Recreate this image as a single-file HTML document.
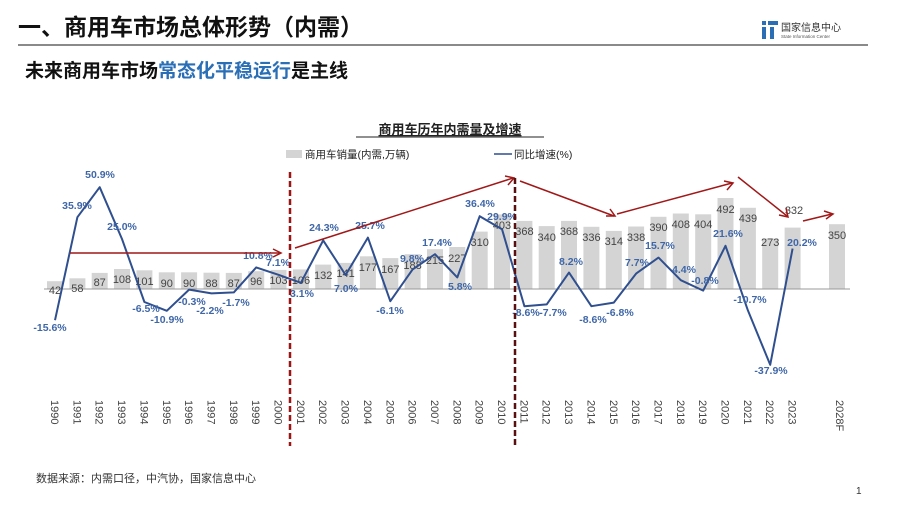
<!DOCTYPE html>
<html><head><meta charset="utf-8"><style>
body{margin:0;background:#fff;}
svg{display:block;font-family:"Liberation Sans","Noto Sans CJK SC",sans-serif;}
</style></head><body>
<svg width="900" height="507" viewBox="0 0 900 507" xmlns="http://www.w3.org/2000/svg">
<rect width="900" height="507" fill="#fff"/>
<text x="18" y="35" font-size="23" font-weight="bold" fill="#111">一、商用车市场总体形势（内需）</text>
<line x1="18" y1="45" x2="868" y2="45" stroke="#444" stroke-width="1.2"/>
<rect x="762" y="21" width="4" height="4" fill="#2a6fb6"/><rect x="762" y="27" width="4" height="12" fill="#2a6fb6"/><rect x="768" y="21" width="10" height="4" fill="#2a6fb6"/><rect x="770" y="27" width="4" height="12" fill="#2a6fb6"/>
<text x="781" y="31" font-size="10" fill="#333">国家信息中心</text>
<text x="781" y="38" font-size="4.5" fill="#555">State Information Center</text>
<text x="25" y="77" font-size="19" font-weight="bold" fill="#111">未来商用车市场<tspan fill="#2a6fb6">常态化平稳运行</tspan>是主线</text>
<text x="450" y="134" font-size="13" font-weight="bold" fill="#222" text-anchor="middle" text-decoration="underline">商用车历年内需量及增速</text>
<line x1="356" y1="137" x2="544" y2="137" stroke="#222" stroke-width="1"/>
<rect x="286" y="150" width="16" height="8" fill="#d4d4d4"/>
<text x="305" y="158" font-size="10.5" fill="#222">商用车销量(内需,万辆)</text>
<line x1="494" y1="154" x2="512" y2="154" stroke="#2f4f8f" stroke-width="1.5"/>
<text x="514" y="158" font-size="10.5" fill="#222">同比增速(%)</text>

<g fill="#d4d4d4">
<rect x="47" y="281.2" width="16" height="7.8"/><rect x="69.4" y="278.3" width="16" height="10.7"/><rect x="91.7" y="272.9" width="16" height="16.1"/><rect x="114" y="269" width="16" height="20"/><rect x="136.4" y="270.3" width="16" height="18.7"/><rect x="158.8" y="272.3" width="16" height="16.7"/><rect x="181.1" y="272.3" width="16" height="16.7"/><rect x="203.5" y="272.7" width="16" height="16.3"/><rect x="225.8" y="272.9" width="16" height="16.1"/><rect x="248.2" y="271.2" width="16" height="17.8"/><rect x="270.5" y="269.9" width="16" height="19.1"/><rect x="292.9" y="269.4" width="16" height="19.6"/><rect x="315.2" y="264.6" width="16" height="24.4"/><rect x="337.6" y="262.9" width="16" height="26.1"/><rect x="359.9" y="256.3" width="16" height="32.7"/><rect x="382.3" y="258.1" width="16" height="30.9"/><rect x="404.6" y="254.2" width="16" height="34.8"/><rect x="427" y="249.2" width="16" height="39.8"/><rect x="449.3" y="247" width="16" height="42"/><rect x="471.7" y="231.6" width="16" height="57.4"/><rect x="494" y="214.4" width="16" height="74.6"/><rect x="516.4" y="220.9" width="16" height="68.1"/><rect x="538.7" y="226.1" width="16" height="62.9"/><rect x="561" y="220.9" width="16" height="68.1"/><rect x="583.4" y="226.8" width="16" height="62.2"/><rect x="605.8" y="230.9" width="16" height="58.1"/><rect x="628.1" y="226.5" width="16" height="62.5"/><rect x="650.5" y="216.8" width="16" height="72.2"/><rect x="672.8" y="213.5" width="16" height="75.5"/><rect x="695.2" y="214.3" width="16" height="74.7"/><rect x="717.5" y="198" width="16" height="91"/><rect x="739.9" y="207.8" width="16" height="81.2"/><rect x="762.2" y="238.5" width="16" height="50.5"/><rect x="784.6" y="227.6" width="16" height="61.4"/><rect x="829" y="224.2" width="16" height="64.8"/>
</g>
<line x1="44" y1="289" x2="850" y2="289" stroke="#999" stroke-width="1"/>

<g font-size="11" fill="#444" text-anchor="middle">
<text x="55" y="294">42</text><text x="77.4" y="292">58</text><text x="99.7" y="286">87</text><text x="122" y="283">108</text><text x="144.4" y="285">101</text><text x="166.8" y="287">90</text><text x="189.1" y="287">90</text><text x="211.5" y="287">88</text><text x="233.8" y="287">87</text><text x="256.2" y="285">96</text><text x="278.5" y="284">103</text><text x="300.9" y="284">106</text><text x="323.2" y="279">132</text><text x="345.6" y="277">141</text><text x="367.9" y="271">177</text><text x="390.3" y="273">167</text><text x="412.6" y="269">188</text><text x="435" y="264">215</text><text x="457.3" y="262">227</text><text x="479.7" y="246">310</text><text x="502" y="229">403</text><text x="524.4" y="235">368</text><text x="546.7" y="241">340</text><text x="569" y="235">368</text><text x="591.4" y="241">336</text><text x="613.8" y="245">314</text><text x="636.1" y="241">338</text><text x="658.5" y="231">390</text><text x="680.8" y="228">408</text><text x="703.2" y="228">404</text><text x="725.5" y="213">492</text><text x="747.9" y="222">439</text><text x="770.2" y="246">273</text><text x="794" y="214">332</text><text x="837" y="239">350</text>
</g>

<polyline fill="none" stroke="#2f4f8f" stroke-width="2" stroke-linejoin="round" points="55,320.2 77.4,217.2 99.7,187.2 122,239 144.4,302 166.8,310.8 189.1,289.6 211.5,293.4 233.8,292.4 256.2,267.4 278.5,274.8 300.9,282.8 323.2,240.4 345.6,275 367.9,237.6 390.3,301.2 412.6,269.4 435,254.2 457.3,277.4 479.7,216.2 502,229.2 524.4,306.2 546.7,304.4 569,272.6 591.4,306.2 613.8,302.6 636.1,273.6 658.5,257.6 680.8,280.2 703.2,290.6 725.5,245.8 747.9,310.4 770.2,364.8 792.6,248.6"/>

<g font-size="10.5" font-weight="bold" fill="#3f67a8" text-anchor="middle">
<text x="50" y="331">-15.6%</text><text x="77" y="209">35.9%</text><text x="100" y="178">50.9%</text><text x="122" y="230">25.0%</text><text x="146" y="312">-6.5%</text><text x="167" y="323">-10.9%</text><text x="192" y="305">-0.3%</text><text x="210" y="314">-2.2%</text><text x="236" y="306">-1.7%</text><text x="258" y="259">10.8%</text><text x="278" y="266">7.1%</text><text x="302" y="297">3.1%</text><text x="324" y="231">24.3%</text><text x="346" y="292">7.0%</text><text x="370" y="229">25.7%</text><text x="390" y="314">-6.1%</text><text x="412" y="262">9.8%</text><text x="437" y="246">17.4%</text><text x="460" y="290">5.8%</text><text x="480" y="207">36.4%</text><text x="502" y="220">29.9%</text><text x="526" y="316">-8.6%</text><text x="553" y="316">-7.7%</text><text x="571" y="265">8.2%</text><text x="593" y="323">-8.6%</text><text x="620" y="316">-6.8%</text><text x="637" y="266">7.7%</text><text x="660" y="249">15.7%</text><text x="684" y="273">4.4%</text><text x="705" y="284">-0.8%</text><text x="728" y="237">21.6%</text><text x="750" y="303">-10.7%</text><text x="771" y="374">-37.9%</text><text x="802" y="246">20.2%</text>
</g>

<g stroke="#a01818" fill="none" stroke-width="1.5">
<line x1="70" y1="253" x2="280" y2="253"/><polyline points="273,249 281,253 273,257"/>
<line x1="295" y1="248" x2="513" y2="178"/><polyline points="505,176 514,178 508,185"/>
<line x1="520" y1="181" x2="614" y2="216"/><polyline points="606,216 615,216 610,209"/>
<line x1="617" y1="214" x2="732" y2="183"/><polyline points="724,181 733,183 727,190"/>
<line x1="738" y1="177" x2="787" y2="216"/><polyline points="779,215 788,217 786,208"/>
<line x1="803" y1="221" x2="832" y2="214"/><polyline points="824,211 833,214 826,219"/>
</g>
<line x1="290" y1="172" x2="290" y2="446" stroke="#9a1515" stroke-width="2.5" stroke-dasharray="6,3"/>
<line x1="515" y1="178" x2="515" y2="446" stroke="#5a1010" stroke-width="2.5" stroke-dasharray="6,3"/>

<g font-size="11" fill="#444">
<text transform="translate(51,400) rotate(90)">1990</text><text transform="translate(73.4,400) rotate(90)">1991</text><text transform="translate(95.7,400) rotate(90)">1992</text><text transform="translate(118,400) rotate(90)">1993</text><text transform="translate(140.4,400) rotate(90)">1994</text><text transform="translate(162.8,400) rotate(90)">1995</text><text transform="translate(185.1,400) rotate(90)">1996</text><text transform="translate(207.5,400) rotate(90)">1997</text><text transform="translate(229.8,400) rotate(90)">1998</text><text transform="translate(252.2,400) rotate(90)">1999</text><text transform="translate(274.5,400) rotate(90)">2000</text><text transform="translate(296.9,400) rotate(90)">2001</text><text transform="translate(319.2,400) rotate(90)">2002</text><text transform="translate(341.6,400) rotate(90)">2003</text><text transform="translate(363.9,400) rotate(90)">2004</text><text transform="translate(386.3,400) rotate(90)">2005</text><text transform="translate(408.6,400) rotate(90)">2006</text><text transform="translate(431,400) rotate(90)">2007</text><text transform="translate(453.3,400) rotate(90)">2008</text><text transform="translate(475.7,400) rotate(90)">2009</text><text transform="translate(498,400) rotate(90)">2010</text><text transform="translate(520.4,400) rotate(90)">2011</text><text transform="translate(542.7,400) rotate(90)">2012</text><text transform="translate(565,400) rotate(90)">2013</text><text transform="translate(587.4,400) rotate(90)">2014</text><text transform="translate(609.8,400) rotate(90)">2015</text><text transform="translate(632.1,400) rotate(90)">2016</text><text transform="translate(654.5,400) rotate(90)">2017</text><text transform="translate(676.8,400) rotate(90)">2018</text><text transform="translate(699.2,400) rotate(90)">2019</text><text transform="translate(721.5,400) rotate(90)">2020</text><text transform="translate(743.9,400) rotate(90)">2021</text><text transform="translate(766.2,400) rotate(90)">2022</text><text transform="translate(788.6,400) rotate(90)">2023</text><text transform="translate(836,400) rotate(90)">2028F</text>
</g>
<text x="36" y="482" font-size="11" fill="#333">数据来源：内需口径，中汽协，国家信息中心</text>
<text x="856" y="494" font-size="10" fill="#333">1</text>
</svg>
</body></html>
